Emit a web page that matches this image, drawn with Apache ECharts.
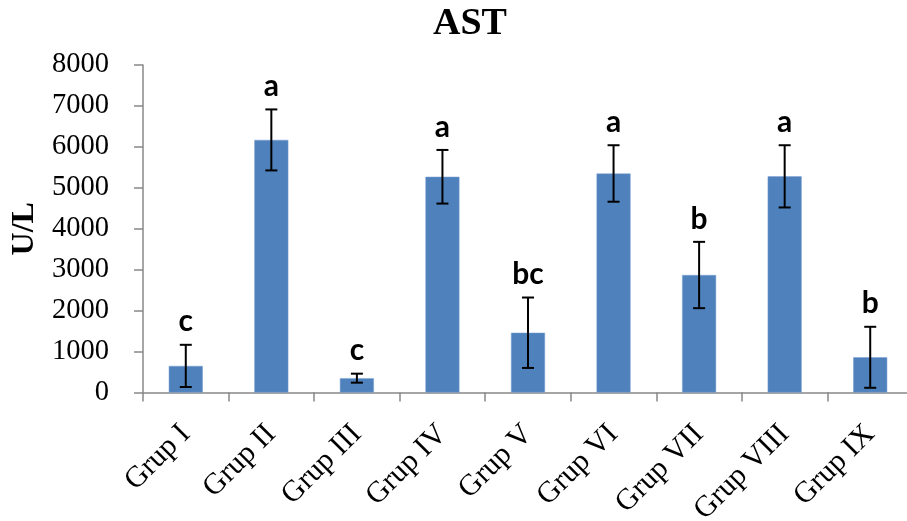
<!DOCTYPE html>
<html>
<head>
<meta charset="utf-8">
<script src="https://cdn.jsdelivr.net/npm/echarts@6/dist/echarts.min.js"></script>
<style>html,body{margin:0;padding:0;background:#fff;}#c{width:907px;height:521px;}</style>
</head>
<body>
<div id="c"></div>
<script>
var groups = ['Grup I','Grup II','Grup III','Grup IV','Grup V','Grup VI','Grup VII','Grup VIII','Grup IX'];
var means = [650, 6170, 350, 5270, 1460, 5350, 2870, 5280, 860];
var sds = [515, 745, 110, 655, 860, 690, 810, 760, 745];
var letters = ['c','a','c','a','bc','a','b','a','b'];
var yTicks = [0,1000,2000,3000,4000,5000,6000,7000,8000];

var chart = echarts.init(document.getElementById('c'));
var errData = means.map(function(m,i){ return [i, m - sds[i], m + sds[i], letters[i]]; });
chart.setOption({
  animation: false,
  title: {
    text: 'AST', left: 465, top: 0, textAlign: 'center',
    textStyle: {fontFamily: 'Liberation Serif', fontWeight: 'bold', fontSize: 38, color: '#000'}
  },
  grid: {left: 143, right: -6, top: 65, bottom: 128.5, containLabel: false, outerBoundsMode: 'none'},
  xAxis: {
    type: 'category', data: groups,
    axisLine: {lineStyle: {color: '#888', width: 1.5}},
    axisTick: {show: true, length: 9, lineStyle: {color: '#888', width: 1.5}, alignWithLabel: false},
    axisLabel: {rotate: 45, margin: 37, interval: 0, fontFamily: 'Liberation Serif', fontSize: 30, color: '#000'}
  },
  yAxis: {
    type: 'value', min: 0, max: 8000, interval: 1000,
    name: 'U/L', nameLocation: 'middle', nameRotate: 90, nameGap: 100,
    nameTextStyle: {fontFamily: 'Liberation Serif', fontWeight: 'bold', fontSize: 32, color: '#000'},
    axisLine: {show: true, lineStyle: {color: '#888', width: 1.5}},
    axisTick: {show: true, inside: false, length: 9, lineStyle: {color: '#888', width: 1.5}},
    splitLine: {show: false},
    axisLabel: {margin: 34, fontFamily: 'Liberation Serif', fontSize: 28.5, color: '#000',
      formatter: function(v){ return yTicks.indexOf(v) >= 0 ? String(v) : ''; }}
  },
  series: [
    {
      type: 'bar', data: means, barWidth: 34,
      itemStyle: {color: '#4F81BD', borderColor: '#7aa0d0', borderWidth: 0.5}
    },
    {
      type: 'custom', data: errData, z: 10,
      renderItem: function(params, api){
        var x = api.value(0);
        var lo = api.coord([x, api.value(1)]);
        var hi = api.coord([x, api.value(2)]);
        var cw = 6;
        var st = {stroke: '#000', lineWidth: 2};
        return {
          type: 'group',
          children: [
            {type: 'line', shape: {x1: hi[0], y1: hi[1], x2: lo[0], y2: lo[1]}, style: st},
            {type: 'line', shape: {x1: hi[0]-cw, y1: hi[1], x2: hi[0]+cw, y2: hi[1]}, style: st},
            {type: 'line', shape: {x1: lo[0]-cw, y1: lo[1], x2: lo[0]+cw, y2: lo[1]}, style: st},
            {type: 'text', x: hi[0], y: hi[1] - 8, style: {
              text: api.value(3), textAlign: 'center', textVerticalAlign: 'bottom',
              fontFamily: 'Lato', fontWeight: 'bold', fontSize: 30, fill: '#000'}}
          ]
        };
      }
    }
  ]
});
</script>
</body>
</html>
